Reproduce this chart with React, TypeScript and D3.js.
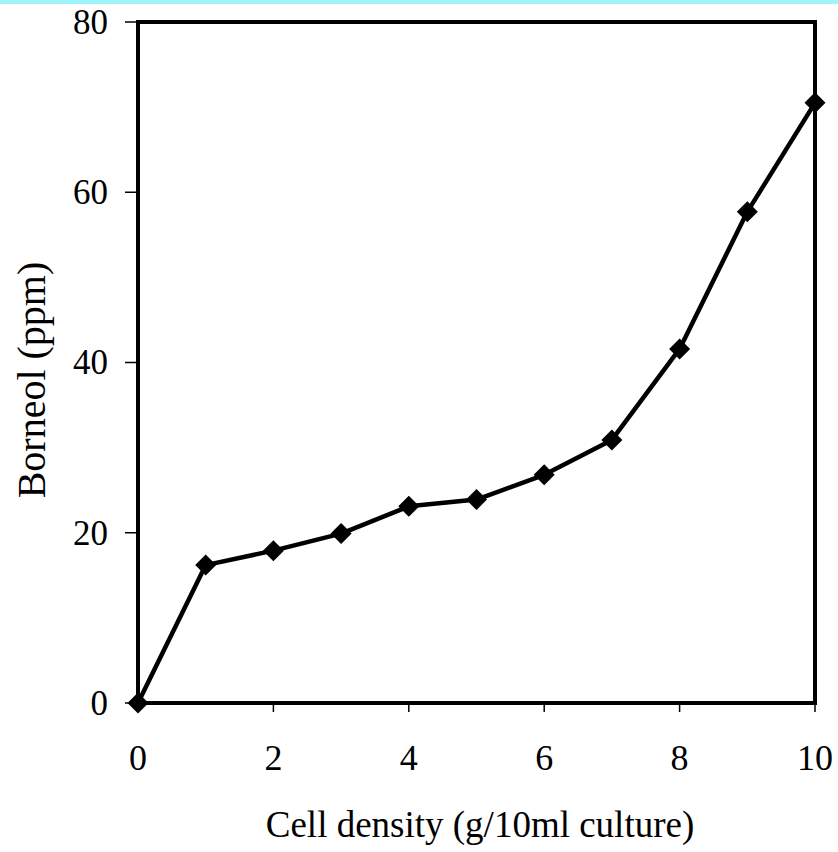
import React from "react";
import * as d3 from "d3";

const xValues = [0, 1, 2, 3, 4, 5, 6, 7, 8, 9, 10];
const yValues = [0, 16.2, 17.9, 19.9, 23.1, 23.9, 26.8, 30.9, 41.6, 57.7, 70.5];
const xTicks = [0, 2, 4, 6, 8, 10];
const yTicks = [0, 20, 40, 60, 80];
const xTitle = "Cell density (g/10ml culture)";
const yTitle = "Borneol (ppm)";

export default function App() {
  const W = 838, H = 852;
  const left = 138, right = 815, top = 22, bottom = 703;
  const x = d3.scaleLinear().domain([0, 10]).range([left, right]);
  const y = d3.scaleLinear().domain([0, 80]).range([bottom, top]);
  const pts: [number, number][] = xValues.map((v, i) => [v, yValues[i]]);
  const line = d3.line<[number, number]>().x(d => x(d[0])).y(d => y(d[1]));
  const font = "'Liberation Serif', 'Times New Roman', serif";
  return (
    <svg width={W} height={H} style={{ position: "absolute", left: 0, top: 0, background: "#fff" }}>
      <rect x={0} y={0} width={W} height={H} fill="#fff" />
      <rect x={0} y={0} width={W} height={4} fill="#9ef4f8" />
      <rect x={left} y={top} width={right - left} height={bottom - top} fill="none" stroke="#000" strokeWidth={4} />
      {yTicks.map(t => (
        <g key={"y" + t}>
          <line x1={left - 13} x2={left} y1={y(t)} y2={y(t)} stroke="#000" strokeWidth={1.5} />
          <text x={left - 30} y={y(t)} dy="0.34em" textAnchor="end" fontFamily={font} fontSize={35}>{t}</text>
        </g>
      ))}
      {xTicks.map(t => (
        <g key={"x" + t}>
          <line x1={x(t)} x2={x(t)} y1={bottom} y2={bottom + 9} stroke="#000" strokeWidth={1.5} />
          <text x={x(t)} y={770} textAnchor="middle" fontFamily={font} fontSize={36}>{t}</text>
        </g>
      ))}
      <path d={line(pts) || ""} fill="none" stroke="#000" strokeWidth={4.5} strokeLinejoin="round" />
      {pts.map((p, i) => {
        const cx = x(p[0]), cy = y(p[1]), r = 10.5;
        return <path key={i} d={`M${cx},${cy - r}L${cx + r},${cy}L${cx},${cy + r}L${cx - r},${cy}Z`} fill="#000" />;
      })}
      <text x={480} y={837} textAnchor="middle" fontFamily={font} fontSize={37}>{xTitle}</text>
      <text transform={`translate(45,380) rotate(-90)`} textAnchor="middle" fontFamily={font} fontSize={40}>{yTitle}</text>
    </svg>
  );
}
